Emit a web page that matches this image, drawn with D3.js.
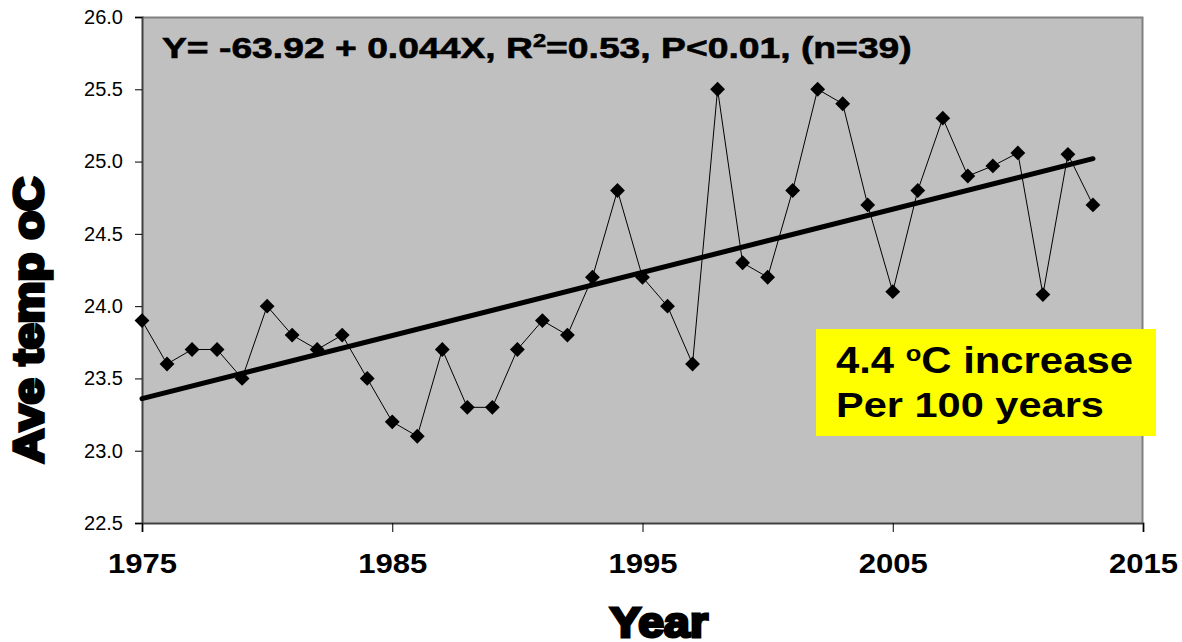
<!DOCTYPE html>
<html>
<head>
<meta charset="utf-8">
<script src="https://cdn.jsdelivr.net/npm/d3@7"></script>
<style>
  body { margin: 0; background: #fff; }
  text { font-family: "Liberation Sans", Arial, sans-serif; }
</style>
</head>
<body>
<svg class="chart"></svg>
<script>
// yearly average temperatures
var years = d3.range(1975, 2014),
  temps = [23.9, 23.6, 23.7, 23.7, 23.5, 24.0, 23.8, 23.7, 23.8, 23.5,
           23.2, 23.1, 23.7, 23.3, 23.3, 23.7, 23.9, 23.8, 24.2, 24.8,
           24.2, 24.0, 23.6, 25.5, 24.3, 24.2, 24.8, 25.5, 25.4, 24.7,
           24.1, 24.8, 25.3, 24.9, 24.97, 25.06, 24.08, 25.05, 24.7],
  trendYears = [1975, 2013],
  trendTemps = [23.36, 25.02],
  xTicks = [1975, 1985, 1995, 2005, 2015],
  yTicks = [22.5, 23.0, 23.5, 24.0, 24.5, 25.0, 25.5, 26.0];

var W = 1182, H = 642,
  margin = {top: 17, right: 39, bottom: 119, left: 142},
  width = W - margin.left - margin.right,
  height = H - margin.top - margin.bottom;

var svg = d3.select(".chart").attr("width", W).attr("height", H);
var g = svg.append("g")
  .attr("transform", "translate(" + margin.left + "," + margin.top + ")");

var x = d3.scaleLinear().domain([1975, 2015]).range([0, width]),
  y = d3.scaleLinear().domain([22.5, 26.0]).range([height, 0]);

// the original picture is stretched sideways, so widen texts to the measured width
function stretch(sel, w){
  var bb = sel.node().getBBox(),
    s = w / bb.width;
  sel.attr("transform", "translate(" + bb.x + ",0) scale(" + s + ",1) translate(" + (-bb.x) + ",0)");
}

// plot area
g.append("rect")
  .attr("width", width).attr("height", height)
  .attr("fill", "#c0c0c0");
g.append("path")
  .attr("d", "M0,0.5H" + (width - 0.5) + "V" + height)
  .attr("fill", "none").attr("stroke", "#808080").attr("stroke-width", 2);

// axes
var yAxis = g.append("g")
  .call(d3.axisLeft(y).tickValues(yTicks).tickFormat(d3.format(".1f")).tickSize(7).tickPadding(12));
yAxis.select(".domain").attr("stroke", "#404040").attr("stroke-width", 2);
yAxis.selectAll("text").attr("font-size", 20).attr("fill", "#000");

var xAxis = g.append("g")
  .attr("transform", "translate(0," + height + ")")
  .call(d3.axisBottom(x).tickValues(xTicks).tickFormat(d3.format("d")).tickSize(9));
xAxis.select(".domain").attr("stroke", "#404040").attr("stroke-width", 2);
xAxis.selectAll("line").attr("stroke", "#000");
xAxis.selectAll("text")
  .attr("font-size", 28).attr("font-weight", "bold").attr("fill", "#000")
  .attr("y", 50).attr("dy", 0)
  .attr("transform", "scale(1.11,1)");

// data line
var pts = years.map(function(d, i){ return [d, temps[i]]; });
g.append("path")
  .datum(pts)
  .attr("d", d3.line().x(function(d){ return x(d[0]); }).y(function(d){ return y(d[1]); }))
  .attr("fill", "none").attr("stroke", "#000").attr("stroke-width", 1);

// trend line
g.append("line")
  .attr("x1", x(trendYears[0])).attr("y1", y(trendTemps[0]))
  .attr("x2", x(trendYears[1])).attr("y2", y(trendTemps[1]))
  .attr("stroke", "#000").attr("stroke-width", 5).attr("stroke-linecap", "round");

// diamond markers
g.selectAll(".pt")
  .data(pts)
  .enter().append("path")
  .attr("class", "pt")
  .attr("d", d3.symbol().type(d3.symbolSquare).size(110))
  .attr("transform", function(d){ return "translate(" + x(d[0]) + "," + y(d[1]) + ") rotate(45)"; })
  .attr("fill", "#000");

// equation
var eq = svg.append("text")
  .attr("x", 162).attr("y", 58)
  .attr("font-size", 30).attr("font-weight", "bold")
  .attr("stroke", "#000").attr("stroke-width", 0.6);
eq.append("tspan").text("Y= -63.92 + 0.044X, R");
eq.append("tspan").attr("dy", -11).attr("font-size", 19).text("2");
eq.append("tspan").attr("dy", 11).text("=0.53, P<0.01, (n=39)");
stretch(eq, 750);

// yellow note
svg.append("rect")
  .attr("x", 816).attr("y", 329).attr("width", 340).attr("height", 107)
  .attr("fill", "#ffff00");
var n1 = svg.append("text")
  .attr("x", 836).attr("y", 373)
  .attr("font-size", 36).attr("font-weight", "bold");
n1.append("tspan").text("4.4 ");
n1.append("tspan").attr("dy", -12).attr("font-size", 22).text("o");
n1.append("tspan").attr("dy", 12).text("C increase");
stretch(n1, 297);
var n2 = svg.append("text")
  .attr("x", 836).attr("y", 417)
  .attr("font-size", 36).attr("font-weight", "bold")
  .text("Per 100 years");
stretch(n2, 268);

// axis titles
var xt = svg.append("text")
  .attr("x", 610).attr("y", 637)
  .attr("font-size", 42).attr("font-weight", "bold")
  .attr("stroke", "#000").attr("stroke-width", 3)
  .text("Year");
stretch(xt, 98);

var yt = svg.append("text")
  .attr("text-anchor", "middle")
  .attr("font-size", 42).attr("font-weight", "bold")
  .attr("stroke", "#000").attr("stroke-width", 3.5)
  .text("Ave temp oC");
var ytLen = yt.node().getBBox().width;
yt.attr("transform", "translate(43,320) rotate(-90) scale(" + (286 / ytLen) + ",1)");
</script>
</body>
</html>
